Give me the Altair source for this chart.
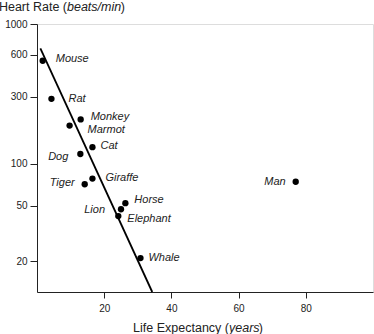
import altair as alt
import pandas as pd

animals = ["Mouse", "Rat", "Monkey", "Marmot", "Cat", "Dog", "Giraffe", "Tiger",
           "Horse", "Lion", "Elephant", "Whale", "Man"]
life_years = [1.7, 4.3, 13.0, 9.7, 16.5, 12.9, 16.5, 14.2, 26.3, 25.0, 24.2, 30.8, 77.0]
heart_rate = [545, 291, 207, 187, 131, 117, 78, 71, 52, 47, 42, 21, 74]

fit_x = [1.0, 34.3]
fit_y = [670, 12]

y_ticks = [20, 50, 100, 300, 600, 1000]
x_ticks = [20, 40, 60, 80]

# label placement (style only): align, dx, dy
label_style = {
    "Mouse": ("left", 13, -2), "Rat": ("left", 17, 0), "Monkey": ("left", 10, -2),
    "Marmot": ("left", 18, 4), "Cat": ("left", 8, -1), "Dog": ("right", -12, 3),
    "Giraffe": ("left", 13, -1), "Tiger": ("right", -10, -1), "Horse": ("left", 9, -3),
    "Lion": ("right", -16, 1), "Elephant": ("left", 9, 3), "Whale": ("left", 8, 0),
    "Man": ("right", -10, 0),
}

df = pd.DataFrame({"animal": animals, "life": life_years, "hr": heart_rate})
fit = pd.DataFrame({"life": fit_x, "hr": fit_y})

FONT = "Liberation Sans"
W, H = 336, 268

xs = alt.Scale(domain=[0, 100], nice=False, zero=False)
ys = alt.Scale(type="log", domain=[12, 1000], nice=False)

xenc = alt.X("life:Q", scale=xs, axis=alt.Axis(values=x_ticks, title=None, grid=False,
             tickSize=6, labelPadding=5, labelFontSize=10, labelFont=FONT,
             labelColor="#222", domainColor="#222", tickColor="#222"))
yenc = alt.Y("hr:Q", scale=ys, axis=alt.Axis(values=y_ticks, title=None, grid=False,
             tickSize=7, labelPadding=3, labelFontSize=10, labelFont=FONT,
             labelColor="#222", domainColor="#222", tickColor="#222", format="d"))

base = alt.Chart(df)
points = base.mark_circle(size=40, color="black", opacity=1).encode(x=xenc, y=yenc)
line = alt.Chart(fit).mark_line(color="black", strokeWidth=1.8).encode(x=xenc, y=yenc)

labels = []
for name, (al, dx, dy) in label_style.items():
    labels.append(
        base.transform_filter(alt.datum.animal == name)
        .mark_text(align=al, baseline="middle", dx=dx, dy=dy, fontStyle="italic",
                   fontSize=11, font=FONT, color="#222")
        .encode(x=alt.X("life:Q", scale=xs), y=alt.Y("hr:Q", scale=ys), text="animal:N")
    )

def piece(txt, x, y, align="left", italic=False):
    return alt.Chart(pd.DataFrame({"t": [txt]})).mark_text(
        align=align, baseline="middle", fontSize=12.5, font=FONT, color="#222",
        fontStyle="italic" if italic else "normal"
    ).encode(x=alt.value(x), y=alt.value(y), text="t:N")

# titles composed of normal + italic parts (anchored at the junctions)
ty = -17
yt = [piece("Heart Rate (", 30, ty, "right"), piece("beats/min", 30, ty, "left", True),
      piece(")", 88, ty, "right")]
txy = 304
xt = [piece("Life Expectancy (", 192, txy, "right"), piece("years", 192, txy, "left", True),
      piece(")", 226, txy, "right")]

chart = alt.layer(line, points, *labels, *yt, *xt).properties(
    width=W, height=H,
    autosize=alt.AutoSizeParams(type="none"),
    padding={"left": 37, "top": 24, "right": 1, "bottom": 42},
).configure_view(stroke="#222", strokeWidth=1).configure(background="white")

chart.save("out.html", embed_options={"renderer": "svg", "actions": False})
